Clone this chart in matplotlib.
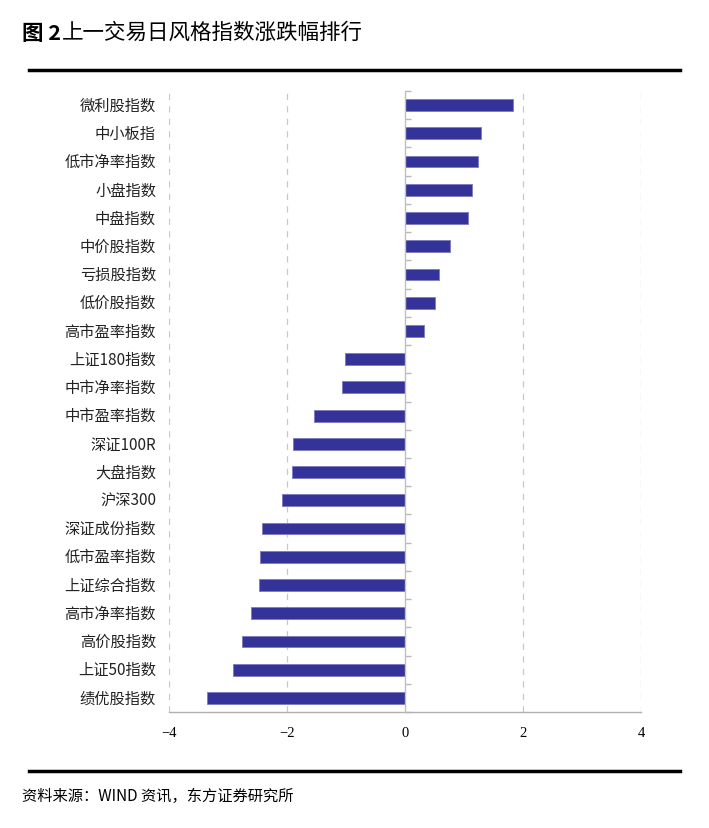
import matplotlib
matplotlib.use("Agg")
import matplotlib.pyplot as plt
import matplotlib.transforms as mtransforms
import numpy as np

plt.rcParams['font.family'] = ['Noto Sans CJK SC', 'DejaVu Sans']
plt.rcParams['axes.unicode_minus'] = True

categories = ["微利股指数", "中小板指", "低市净率指数", "小盘指数", "中盘指数", "中价股指数",
              "亏损股指数", "低价股指数", "高市盈率指数", "上证180指数", "中市净率指数",
              "中市盈率指数", "深证100R", "大盘指数", "沪深300", "深证成份指数",
              "低市盈率指数", "上证综合指数", "高市净率指数", "高价股指数", "上证50指数",
              "绩优股指数"]
values = [1.83, 1.28, 1.24, 1.14, 1.07, 0.77, 0.57, 0.51, 0.32, -1.02, -1.06,
          -1.55, -1.90, -1.92, -2.08, -2.42, -2.45, -2.48, -2.61, -2.77, -2.92, -3.36]
xticks = [-4, -2, 0, 2, 4]

W, H = 709, 829
fig = plt.figure(figsize=(W / 100, H / 100), dpi=100)

# axes placement in pixels
left, right, top, bottom = 169, 641, 92, 713
ax = fig.add_axes([left / W, 1 - bottom / H, (right - left) / W, (bottom - top) / H])

n = len(categories)
ypos = np.arange(n)
ax.barh(ypos, values, height=0.42, color='#333399', edgecolor='#8080c0', linewidth=0.7, zorder=3)
ax.set_ylim(n - 0.5, -0.5)
ax.set_xlim(-4, 4)

# grid
for xv in xticks:
    if xv != 0:
        ax.axvline(xv, color='#c8c8c8', linestyle=(0, (5, 5)), linewidth=0.9, zorder=1)

for s in ['top', 'right']:
    ax.spines[s].set_visible(False)
ax.spines['bottom'].set_color('#b0b0b0')
ax.spines['bottom'].set_linewidth(1.0)
ax.spines['left'].set_position(('data', 0))
ax.spines['left'].set_color('#c0c0c0')
ax.spines['left'].set_linewidth(1.0)
ax.spines['left'].set_zorder(4)

ax.set_yticks(ypos)
ax.set_yticklabels([])
ax.tick_params(axis='y', which='major', length=0)
ax.set_yticks(np.arange(n + 1) - 0.5, minor=True)
ax.tick_params(axis='y', which='minor', length=4, direction='in', color='#b8b8b8', width=1)

ax.set_xticks(xticks)
ax.set_xticklabels([str(v).replace('-', '\u2212') for v in xticks],
                   fontfamily='Liberation Serif', fontsize=10.5)
ax.tick_params(axis='x', length=0, pad=10)

trans = mtransforms.blended_transform_factory(fig.transFigure, ax.transData)
for y, lab in zip(ypos, categories):
    ax.text(156 / W, y, lab, transform=trans, ha='right', va='center', fontsize=11,
            color='#222222')

# title
t1 = fig.text(22 / W, 1 - 33 / H, "图 2", fontsize=15.5, fontweight='bold', va='center', ha='left')
fig.text(62 / W, 1 - 33 / H, "上一交易日风格指数涨跌幅排行", fontsize=15.5, va='center', ha='left')

# rules
fig.add_artist(plt.Line2D([29 / W, 680 / W], [1 - 71 / H, 1 - 71 / H], color='black', linewidth=2.5))
fig.add_artist(plt.Line2D([29 / W, 680 / W], [1 - 772 / H, 1 - 772 / H], color='black', linewidth=2.5))

fig.text(22 / W, 1 - 796 / H, "资料来源：WIND 资讯，东方证券研究所", fontsize=11, va='center', ha='left')

fig.savefig("out.png", dpi=100)
